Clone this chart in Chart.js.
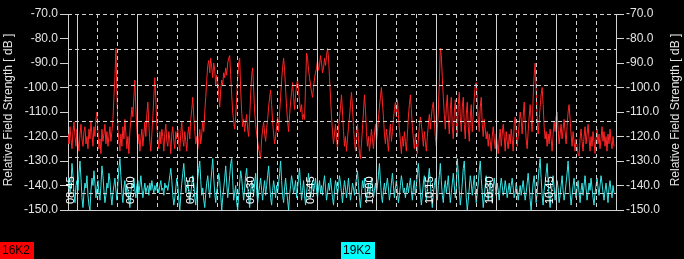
<!DOCTYPE html>
<html><head><meta charset="utf-8">
<script src="https://cdn.jsdelivr.net/npm/chart.js@4/dist/chart.umd.min.js"></script>
<style>html,body{margin:0;padding:0;background:#000;}canvas{display:block}</style>
</head><body>
<canvas id="c" width="684" height="259"></canvas>
<script>
// ---- data ----
const seriesNames = ['16K2', '19K2'];
const seriesColors = ['#ff2424', '#38e6e6'];
const timeTickLabels = ['08:45','09:00','09:15','09:30','09:45','10:00','10:15','10:30','10:45'];
const timeTickMinutes = [0, 15, 30, 45, 60, 75, 90, 105, 120];   // minutes after 08:45
const gridMinutes = [0,5,10,15,20,25,30,35,40,45,50,55,60,65,70,75,80,85,90,95,100,105,110,115,120,125,130];
const gridDb = [-84.3, -99.0, -113.7, -128.4, -143.1];
const axisMin = -150, axisMax = -70, axisStep = 10;
const timeMin = -2.25, timeMax = 135;
const sampleStartMin = -2.25, sampleStepMin = 0.25;
const axisTitle = 'Relative Field Strength [ dB ]';

const red16K2 = [
-119,-123,-116,-121,-125,-118,-114,-120,-124,-117,
-122,-126,-119,-115,-121,-124,-118,-116,-123,-120,
-125,-117,-121,-114,-119,-124,-116,-120,-113,-110,
-118,-125,-121,-127,-117,-122,-119,-115,-123,-118,
-124,-120,-116,-122,-118,-113,-104,-96,-84,-102,
-117,-122,-126,-119,-124,-116,-121,-113,-119,-125,
-120,-127,-118,-113,-108,-112,-104,-97,-109,-117,
-123,-119,-126,-121,-117,-124,-119,-114,-120,-111,
-106,-115,-122,-126,-119,-112,-104,-96,-105,-116,
-121,-125,-118,-123,-117,-120,-126,-119,-115,-122,
-124,-118,-121,-127,-119,-116,-122,-125,-118,-121,
-117,-123,-126,-119,-114,-121,-124,-118,-122,-126,
-119,-116,-121,-113,-109,-104,-112,-118,-123,-120,
-125,-121,-117,-123,-119,-114,-118,-110,-104,-97,
-91,-89,-94,-88,-92,-96,-90,-93,-99,-95,
-98,-103,-108,-101,-97,-99,-94,-96,-92,-95,
-90,-88,-87,-95,-103,-110,-114,-117,-112,-104,
-96,-90,-88,-101,-110,-116,-113,-118,-114,-111,
-117,-120,-112,-103,-95,-92,-101,-110,-115,-119,
-122,-125,-127,-129,-121,-117,-114,-119,-122,-117,
-113,-108,-104,-101,-107,-114,-119,-123,-120,-116,
-112,-118,-110,-104,-97,-92,-88,-93,-101,-108,
-114,-118,-111,-106,-102,-98,-104,-109,-103,-99,
-97,-101,-106,-110,-107,-113,-111,-113,-99,-86,
-88,-93,-96,-99,-102,-104,-100,-96,-94,-92,
-89,-93,-91,-87,-90,-94,-92,-88,-91,-87,
-84,-88,-96,-104,-112,-118,-123,-119,-115,-121,
-125,-117,-112,-108,-103,-110,-118,-124,-120,-126,
-121,-116,-112,-107,-102,-108,-116,-122,-126,-119,
-115,-121,-127,-129,-123,-117,-110,-103,-109,-118,
-124,-120,-126,-122,-117,-121,-125,-119,-115,-122,
-118,-113,-108,-104,-100,-106,-112,-119,-123,-117,
-121,-126,-119,-115,-122,-118,-113,-109,-106,-112,
-105,-111,-117,-122,-127,-120,-124,-118,-122,-126,
-119,-112,-107,-103,-109,-116,-121,-125,-119,-123,
-127,-121,-116,-112,-115,-119,-124,-118,-122,-126,
-120,-115,-111,-117,-112,-108,-106,-113,-120,-124,
-117,-110,-98,-84,-87,-96,-104,-111,-117,-108,
-103,-113,-119,-109,-104,-116,-121,-110,-105,-114,
-120,-107,-102,-112,-118,-108,-104,-115,-121,-111,
-106,-116,-122,-112,-107,-118,-111,-104,-99,-98,
-105,-113,-118,-108,-104,-115,-120,-113,-117,-121,
-118,-124,-119,-122,-126,-120,-116,-121,-125,-119,
-123,-127,-121,-117,-124,-119,-115,-120,-126,-118,
-122,-125,-119,-123,-117,-121,-126,-115,-112,-118,
-124,-120,-115,-110,-113,-119,-112,-106,-114,-121,
-125,-118,-112,-107,-113,-118,-104,-95,-90,-101,
-112,-119,-114,-108,-103,-100,-107,-116,-121,-118,
-124,-119,-123,-117,-121,-126,-119,-114,-118,-112,
-110,-117,-123,-119,-115,-121,-117,-113,-118,-123,
-116,-110,-107,-113,-119,-124,-118,-122,-126,-121,
-124,-127,-128,-121,-117,-122,-126,-120,-116,-123,
-119,-115,-121,-126,-120,-124,-118,-122,-127,-121,
-117,-123,-119,-125,-121,-116,-122,-118,-124,-120,
-126,-119,-123,-117,-122,-125,-120,-124
];
const cyan19K2 = [
-141,-137,-143,-139,-131,-136,-144,-147,-140,-138,
-142,-135,-130,-137,-145,-149,-143,-139,-141,-136,
-144,-148,-150,-142,-137,-140,-134,-139,-145,-141,
-138,-143,-146,-140,-132,-136,-142,-147,-144,-139,
-141,-135,-138,-144,-148,-143,-140,-137,-142,-146,
-139,-133,-129,-136,-143,-147,-141,-138,-144,-140,
-142,-146,-149,-143,-139,-141,-137,-142,-145,-140,
-138,-143,-140,-136,-141,-145,-142,-139,-143,-141,
-140,-144,-139,-142,-138,-141,-143,-140,-142,-139,
-141,-143,-140,-138,-142,-141,-144,-139,-141,-140,
-142,-139,-136,-133,-138,-144,-148,-145,-141,-137,
-140,-146,-150,-144,-139,-135,-131,-137,-143,-141,
-138,-142,-147,-143,-140,-136,-139,-145,-148,-142,
-137,-133,-130,-138,-144,-141,-146,-149,-143,-139,
-136,-141,-145,-139,-134,-129,-137,-143,-147,-142,
-140,-135,-138,-144,-150,-145,-141,-137,-132,-139,
-145,-141,-136,-131,-129,-138,-146,-143,-140,-147,
-150,-144,-139,-134,-137,-142,-146,-141,-136,-133,
-140,-145,-149,-143,-138,-141,-144,-139,-135,-142,
-147,-143,-140,-137,-142,-146,-141,-138,-144,-140,
-136,-132,-139,-145,-148,-142,-138,-141,-145,-140,
-143,-139,-135,-130,-138,-144,-147,-141,-137,-142,
-146,-150,-144,-140,-136,-139,-143,-141,-138,-145,
-141,-137,-133,-140,-146,-142,-138,-144,-148,-143,
-139,-135,-141,-145,-142,-138,-143,-140,-137,-142,
-145,-141,-138,-143,-140,-144,-139,-136,-141,-146,
-143,-139,-142,-137,-141,-145,-148,-142,-138,-140,
-144,-140,-136,-139,-143,-147,-142,-138,-141,-145,
-141,-137,-142,-146,-143,-139,-141,-144,-140,-137,
-134,-140,-145,-149,-143,-138,-141,-137,-143,-146,
-142,-139,-144,-141,-137,-140,-145,-142,-139,-143,
-140,-136,-131,-138,-144,-147,-142,-139,-143,-140,
-137,-141,-146,-143,-139,-135,-140,-145,-141,-138,
-142,-147,-144,-140,-136,-139,-143,-141,-145,-142,
-139,-143,-140,-137,-142,-146,-141,-138,-144,-140,
-135,-131,-137,-143,-148,-144,-139,-136,-142,-146,
-141,-137,-133,-139,-145,-149,-143,-140,-137,-142,
-146,-140,-136,-131,-138,-144,-147,-141,-138,-143,
-140,-136,-142,-147,-143,-139,-135,-140,-145,-141,
-129,-135,-142,-148,-144,-139,-133,-130,-138,-145,
-150,-146,-141,-136,-139,-144,-140,-136,-142,-147,
-143,-139,-134,-130,-137,-143,-149,-145,-140,-136,
-141,-146,-142,-138,-143,-147,-141,-137,-140,-144,
-139,-142,-146,-141,-137,-140,-144,-142,-138,-141,
-145,-142,-139,-143,-140,-137,-141,-145,-143,-139,
-142,-146,-143,-140,-144,-141,-138,-142,-146,-143,
-139,-135,-140,-146,-150,-144,-139,-136,-141,-147,
-143,-138,-133,-129,-137,-144,-148,-142,-139,-135,
-131,-138,-145,-149,-143,-140,-136,-141,-146,-142,
-138,-141,-147,-144,-140,-136,-142,-146,-143,-139,
-135,-130,-137,-143,-148,-144,-140,-137,-142,-145,
-141,-138,-143,-147,-142,-139,-144,-140,-136,-141,
-146,-143,-139,-142,-137,-141,-145,-148,-143,-140,
-137,-141,-144,-140,-136,-139,-143,-146,-142,-139,
-143,-147,-141,-138,-142,-145,-140,-143
];

// ---- build ----
const toPoints = arr => arr.map((v, i) => ({ x: sampleStartMin + i * sampleStepMin, y: v }));
const FONT = 'Liberation Sans, Arial, sans-serif';
const TXT = '#e4e4e4';
const GRID = '#d2d2d2';

const yAxis = (pos) => ({
  type: 'linear', position: pos, min: axisMin, max: axisMax,
  ticks: { stepSize: axisStep, color: TXT, font: { family: FONT, size: 12 }, padding: 2,
           callback: v => Number(v).toFixed(1) },
  grid: { drawOnChartArea: false, drawTicks: true, tickLength: 8, color: GRID },
  border: { display: true, color: GRID, width: 1 },
  afterFit: s => { s.width = 68; }
});

const overlay = {
  id: 'overlay',
  afterDatasetsDraw(chart) {
    const { ctx, chartArea: a, scales } = chart;
    const x = scales.x, y = scales.y;
    ctx.save();
    ctx.lineWidth = 1;
    ctx.strokeStyle = GRID;
    gridMinutes.forEach(m => {
      const px = Math.round(x.getPixelForValue(m)) + 0.5;
      ctx.setLineDash(m % 15 === 0 ? [] : [4, 3]);
      ctx.beginPath(); ctx.moveTo(px, a.top); ctx.lineTo(px, a.bottom); ctx.stroke();
    });
    ctx.setLineDash([4, 3]);
    gridDb.forEach(d => {
      const py = Math.round(y.getPixelForValue(d)) + 0.5;
      ctx.beginPath(); ctx.moveTo(a.left, py); ctx.lineTo(a.right, py); ctx.stroke();
    });
    const ty = Math.round(a.top) + 0.5;
    ctx.beginPath(); ctx.moveTo(a.left, ty); ctx.lineTo(a.right, ty); ctx.stroke();
    ctx.setLineDash([]);
    ctx.fillStyle = '#ffffff';
    ctx.font = '11px ' + FONT;
    ctx.textAlign = 'left';
    ctx.textBaseline = 'bottom';
    timeTickLabels.forEach((lab, i) => {
      const px = x.getPixelForValue(timeTickMinutes[i]);
      ctx.save();
      ctx.translate(px - 0.5, a.bottom - 6);
      ctx.rotate(-Math.PI / 2);
      ctx.fillText(lab, 0, 0);
      ctx.restore();
    });
    ctx.restore();
  },
  afterDraw(chart) {
    const { ctx, chartArea: a } = chart;
    ctx.save();
    ctx.fillStyle = TXT;
    ctx.font = '12px ' + FONT;
    ctx.textAlign = 'center';
    ctx.textBaseline = 'middle';
    const cy = (a.top + a.bottom) / 2 - 2;
    [9, 676].forEach(cx => {
      ctx.save(); ctx.translate(cx, cy); ctx.rotate(-Math.PI / 2);
      ctx.fillText(axisTitle, 0, 0); ctx.restore();
    });
    const legendX = [0, 341];
    ctx.textAlign = 'left';
    seriesNames.forEach((n, i) => {
      ctx.fillStyle = i === 0 ? '#ff0000' : '#00ffff';
      ctx.fillRect(legendX[i], 242, 34, 17);
      ctx.fillStyle = '#000000';
      ctx.fillText(n, legendX[i] + 2, 251);
    });
    ctx.restore();
  }
};

new Chart(document.getElementById('c'), {
  type: 'line',
  data: {
    datasets: [
      { label: seriesNames[0], data: toPoints(red16K2), borderColor: seriesColors[0], borderWidth: 1, pointRadius: 0, tension: 0, yAxisID: 'y' },
      { label: seriesNames[1], data: toPoints(cyan19K2), borderColor: seriesColors[1], borderWidth: 1, pointRadius: 0, tension: 0, yAxisID: 'y' }
    ]
  },
  options: {
    responsive: false, animation: false, devicePixelRatio: 1,
    layout: { padding: { top: 14, left: 0, right: 0, bottom: 0 } },
    plugins: { legend: { display: false }, tooltip: { enabled: false } },
    scales: {
      x: { type: 'linear', min: timeMin, max: timeMax,
           ticks: { display: false }, grid: { display: false },
           border: { display: true, color: GRID },
           afterFit: s => { s.height = 49; } },
      y: yAxis('left'),
      y2: yAxis('right')
    }
  },
  plugins: [overlay, { id: 'bg', beforeDraw(c) { c.ctx.save(); c.ctx.fillStyle = '#000'; c.ctx.fillRect(0, 0, c.width, c.height); c.ctx.restore(); } }]
});
</script>
</body></html>
